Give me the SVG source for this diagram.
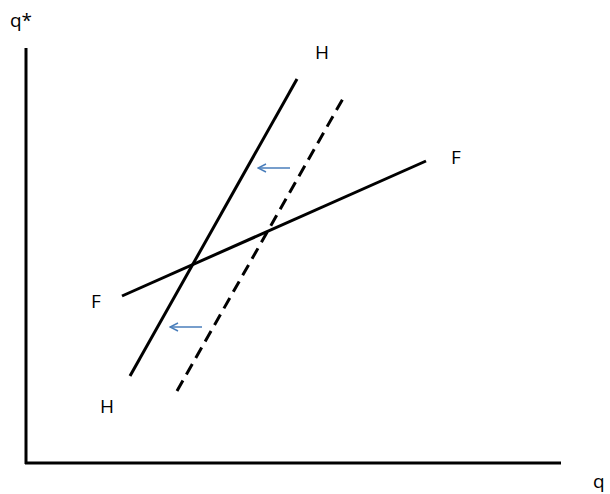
<svg xmlns="http://www.w3.org/2000/svg" width="610" height="494" viewBox="0 0 610 494">
<style>
.ln{stroke:#000;stroke-width:3;fill:none}
.ar{stroke:#4a7ebb;stroke-width:1.5;fill:none}
text{font-family:"Open Sans","Liberation Sans",sans-serif;font-size:19px;fill:#000}
</style>
<defs>
<marker id="ah" viewBox="0 0 10 10" refX="9" refY="5" markerWidth="10" markerHeight="10" markerUnits="userSpaceOnUse" orient="auto">
<path d="M1,1 L9,5 L1,9" fill="none" stroke="#4a7ebb" stroke-width="1.5"/>
</marker>
</defs>
<g id="axes">
<line class="ln" x1="26" y1="48" x2="26" y2="464"/>
<line class="ln" x1="25" y1="463" x2="561" y2="463"/>
<text x="10" y="27">q*</text>
<text x="593" y="488">q</text>
</g>
<g id="connectors">
<line class="ln" x1="130" y1="376" x2="297" y2="79"/>
<line class="ln" x1="177" y1="391" x2="345" y2="95" stroke-dasharray="12,7"/>
<line class="ln" x1="122" y1="296" x2="426" y2="161"/>
<line class="ar" x1="290" y1="168" x2="258" y2="168" marker-end="url(#ah)"/>
<line class="ar" x1="202" y1="327" x2="170" y2="327" marker-end="url(#ah)"/>
</g>
<g id="labels">
<text x="315" y="59">H</text>
<text x="451" y="164">F</text>
<text x="91" y="308">F</text>
<text x="100" y="413">H</text>
</g>
</svg>
